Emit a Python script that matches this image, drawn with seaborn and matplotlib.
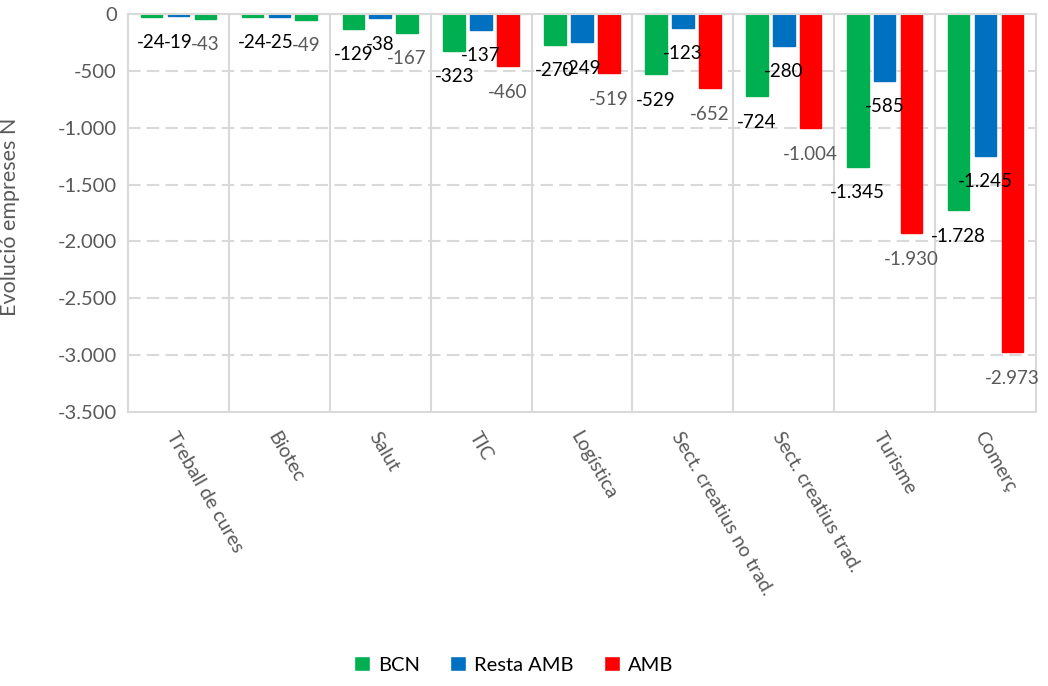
import matplotlib
matplotlib.use("Agg")
import matplotlib.pyplot as plt
import seaborn as sns
import pandas as pd

categories = ["Treball de cures", "Biotec", "Salut", "TIC", "Logística",
              "Sect. creatius no trad.", "Sect. creatius trad.", "Turisme", "Comerç"]
bcn = [-24, -24, -129, -323, -270, -529, -724, -1345, -1728]
resta_amb = [-19, -25, -38, -137, -249, -123, -280, -585, -1245]
amb = [-43, -49, -167, -460, -519, -652, -1004, -1930, -2973]
series_names = ["BCN", "Resta AMB", "AMB"]
y_ticks = [0, -500, -1000, -1500, -2000, -2500, -3000, -3500]

GREEN, BLUE, RED = "#00B050", "#0070C0", "#FF0000"
amb_bar_colors = [GREEN, GREEN, GREEN, RED, RED, RED, RED, RED, RED]
label_colors = {"BCN": "#000000", "Resta AMB": "#000000", "AMB": "#595959"}

df = pd.DataFrame({
    "cat": categories * 3,
    "serie": [s for s in series_names for _ in categories],
    "val": bcn + resta_amb + amb,
})

sns.set_theme(style="white")
plt.rcParams["font.family"] = ["Lato", "DejaVu Sans"]

fig = plt.figure(figsize=(10.48, 6.86), dpi=100)
ax = fig.add_axes([128/1048, 1-412/686, (1036-128)/1048, (412-14)/686])

sns.barplot(data=df, x="cat", y="val", hue="serie", order=categories,
            hue_order=series_names, palette=[GREEN, BLUE, RED],
            saturation=1, width=0.8, gap=0.2, ax=ax, legend=True)

# recolor AMB bars
for patch, c in zip(ax.containers[2], amb_bar_colors):
    patch.set_facecolor(c)
    patch.set_edgecolor(c)
for cont, c in zip(ax.containers[:2], [GREEN, BLUE]):
    for p in cont:
        p.set_edgecolor(c)

# data labels
for cont, name in zip(ax.containers, series_names):
    for p in cont:
        v = p.get_height()
        x = p.get_x() + p.get_width() / 2
        txt = f"{int(round(v)):,}".replace(",", ".")
        ax.annotate(txt, (x, v), xytext=(0, -26), textcoords="offset pixels",
                    ha="center", va="center", fontsize=13.5,
                    color=label_colors[name])

ax.set_ylim(-3500, 0)
ax.set_xlim(-0.5, len(categories) - 0.5)
ax.set_yticks(y_ticks)
ax.set_yticklabels([f"{t:,}".replace(",", ".") for t in y_ticks],
                   fontsize=14.5, color="#595959")
ax.tick_params(axis="y", length=0, pad=8)
ax.tick_params(axis="x", length=0, pad=12)
ax.set_xticks(range(len(categories)))
ax.set_xticklabels(categories, rotation=-60, ha="left", va="top",
                   rotation_mode="anchor", fontsize=14, color="#595959")

# grid
for yv in y_ticks[1:-1]:
    ax.axhline(yv, color="#D9D9D9", lw=1.5, ls=(0, (6, 3)), zorder=0)
for xv in [i + 0.5 for i in range(len(categories) - 1)]:
    ax.axvline(xv, color="#D9D9D9", lw=1.5, zorder=0)
for s in ax.spines.values():
    s.set_visible(True)
    s.set_color("#D9D9D9")
    s.set_linewidth(1.5)

ax.set_xlabel("")
ax.set_ylabel("Evolució empreses N", fontsize=15.5, color="#595959")
ax.yaxis.set_label_coords(-0.119, 0.49)

handles, labels = ax.get_legend_handles_labels()
ax.get_legend().remove()
leg = fig.legend(handles, labels, loc="center", bbox_to_anchor=(0.49, 0.031),
                 ncol=3, frameon=False, fontsize=14.5, handlelength=0.8,
                 handleheight=0.8, handletextpad=0.4, columnspacing=1.5)
for t in leg.get_texts():
    t.set_color("#000000")

fig.savefig("out.png", dpi=100)
